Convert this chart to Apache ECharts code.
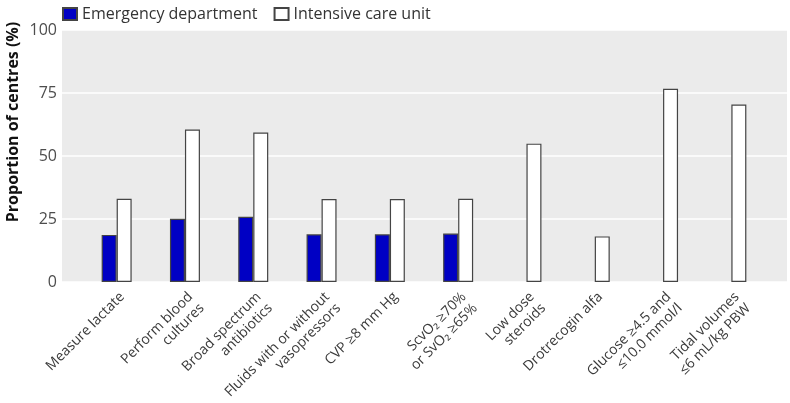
<!DOCTYPE html>
<html>
<head>
<meta charset="utf-8">
<script src="https://cdn.jsdelivr.net/npm/echarts@6/dist/echarts.min.js"></script>
<style>
  html, body { margin: 0; padding: 0; background: #fff; }
  #chart { width: 790px; height: 403px; }
</style>
</head>
<body>
<div id="chart"></div>
<script>
// categories on the x axis
var categories = [
  'Measure lactate',
  'Perform blood\ncultures',
  'Broad spectrum\nantibiotics',
  'Fluids with or without\nvasopressors',
  'CVP ≥8 mm Hg',
  'ScvO₂ ≥70%\nor SvO₂ ≥65%',
  'Low dose\nsteroids',
  'Drotrecogin alfa',
  'Glucose ≥4.5 and\n≤10.0 mmol/l',
  'Tidal volumes\n≤6 mL/kg PBW'
];
// proportion of centres (%)
var emergencyDept = [18.7, 25.1, 25.9, 18.9, 18.9, 19.2, null, null, null, null];
var intensiveCare = [33.0, 60.5, 59.3, 32.9, 32.9, 33.0, 54.9, 18.1, 76.7, 70.4];
var yTicks = [0, 25, 50, 75, 100];

var font = '"Open Sans", "Noto Sans", sans-serif';
var chart = echarts.init(document.getElementById('chart'));

chart.setOption({
  animation: false,
  textStyle: { fontFamily: font },
  legend: {
    left: 62,
    top: 6,
    padding: 0,
    icon: 'rect',
    itemWidth: 14,
    itemHeight: 12,
    itemGap: 16,
    textStyle: { fontSize: 16, color: '#333', fontFamily: font },
    data: ['Emergency department', 'Intensive care unit']
  },
  // grid 0 = grey panel + y axis, grid 1 = bars (narrower, like ggplot expand)
  grid: [
    { left: 62, right: 3, top: 30, bottom: 121, show: true, backgroundColor: '#ebebeb', borderWidth: 0, outerBoundsMode: 'none', containLabel: false },
    { left: 82.5, right: 24.5, top: 30, bottom: 121, outerBoundsMode: 'none', containLabel: false }
  ],
  xAxis: [
    { gridIndex: 0, type: 'category', data: categories, show: false },
    {
      gridIndex: 1,
      type: 'category',
      data: categories,
      axisLine: { show: false },
      axisTick: { show: false },
      axisLabel: {
        interval: 0,
        rotate: 45,
        align: 'right',
        verticalAlign: 'top',
        margin: 7,
        fontSize: 14,
        lineHeight: 16,
        color: '#3a3a3a',
        fontFamily: font
      }
    }
  ],
  yAxis: [
    {
      gridIndex: 0,
      type: 'value',
      min: yTicks[0],
      max: yTicks[yTicks.length - 1],
      interval: 25,
      axisLine: { show: false },
      axisTick: { show: false },
      axisLabel: { fontSize: 16, color: '#4d4d4d', margin: 5, fontFamily: font },
      splitLine: { lineStyle: { color: '#ffffff', width: 1.6 } }
    },
    {
      gridIndex: 1,
      type: 'value',
      min: 0,
      max: 100,
      show: false
    }
  ],
  graphic: [{
    type: 'text',
    x: 13,
    y: 122,
    rotation: Math.PI / 2,
    style: {
      text: 'Proportion of centres (%)',
      fontSize: 16,
      fontWeight: 'bold',
      fontFamily: font,
      fill: '#111',
      align: 'center',
      verticalAlign: 'middle'
    }
  }],
  series: [
    {
      name: 'Emergency department',
      type: 'bar',
      xAxisIndex: 1,
      yAxisIndex: 1,
      barWidth: 15,
      barGap: '0%',
      itemStyle: { color: '#0000c4', borderColor: '#444', borderWidth: 1.2 },
      data: emergencyDept
    },
    {
      name: 'Intensive care unit',
      type: 'bar',
      xAxisIndex: 1,
      yAxisIndex: 1,
      barWidth: 15,
      barGap: '0%',
      itemStyle: { color: '#ffffff', borderColor: '#444', borderWidth: 1.2 },
      data: intensiveCare
    }
  ]
});
</script>
</body>
</html>
